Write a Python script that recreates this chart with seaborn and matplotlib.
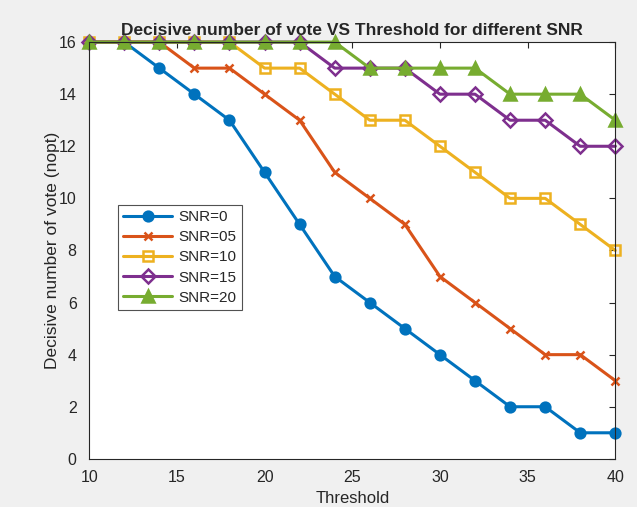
import matplotlib
matplotlib.use('Agg')
import matplotlib.pyplot as plt
import seaborn as sns
import pandas as pd

# Decisive number of vote vs threshold, one curve per SNR

threshold = [10, 12, 14, 16, 18, 20, 22, 24, 26, 28, 30, 32, 34, 36, 38, 40]
snr_0 = [16, 16, 15, 14, 13, 11, 9, 7, 6, 5, 4, 3, 2, 2, 1, 1]
snr_05 = [16, 16, 16, 15, 15, 14, 13, 11, 10, 9, 7, 6, 5, 4, 4, 3]
snr_10 = [16, 16, 16, 16, 16, 15, 15, 14, 13, 13, 12, 11, 10, 10, 9, 8]
snr_15 = [16, 16, 16, 16, 16, 16, 16, 15, 15, 15, 14, 14, 13, 13, 12, 12]
snr_20 = [16, 16, 16, 16, 16, 16, 16, 16, 15, 15, 15, 15, 14, 14, 14, 13]

series = {'SNR=0': snr_0, 'SNR=05': snr_05, 'SNR=10': snr_10,
          'SNR=15': snr_15, 'SNR=20': snr_20}

# matlab default colours + marker style per curve
styles = {
    'SNR=0': dict(color='#0072BD', marker='o', mfc='#0072BD', ms=7),
    'SNR=05': dict(color='#D95319', marker='x', mfc='#D95319', ms=6),
    'SNR=10': dict(color='#EDB120', marker='s', mfc='none', ms=7),
    'SNR=15': dict(color='#7E2F8E', marker='D', mfc='none', ms=7),
    'SNR=20': dict(color='#77AC30', marker='^', mfc='#77AC30', ms=9),
}

df = pd.DataFrame({'threshold': threshold, **series})
df_long = df.melt(id_vars='threshold', var_name='snr', value_name='nopt')

sns.set_style('white')
plt.rcParams['font.family'] = ['Liberation Sans', 'DejaVu Sans']

fig = plt.figure(figsize=(6.37, 5.07), dpi=100, facecolor='#f0f0f0')
ax = fig.add_axes([0.14, 0.095, 0.826, 0.822])

for name in series:
    st = styles[name]
    sns.lineplot(data=df_long[df_long['snr'] == name], x='threshold', y='nopt',
                 ax=ax, color=st['color'], marker=st['marker'],
                 markerfacecolor=st['mfc'], markeredgecolor=st['color'],
                 markersize=st['ms'], markeredgewidth=1.8, linewidth=2.2,
                 label=name, clip_on=False)

ax.set_xlim(10, 40)
ax.set_ylim(0, 16)
ax.set_xticks([10, 15, 20, 25, 30, 35, 40])
ax.set_yticks(range(0, 17, 2))
ax.tick_params(direction='in', length=4, labelsize=11.5, colors='#262626',
               top=True, right=True, labeltop=False, labelright=False)
ax.tick_params(axis='x', pad=8)
ax.tick_params(axis='y', pad=9)
for sp in ax.spines.values():
    sp.set_color('#262626')
    sp.set_linewidth(0.8)

ax.set_title('Decisive number of vote VS Threshold for different SNR',
             fontsize=12.5, fontweight='bold', pad=5)
ax.set_xlabel('Threshold', fontsize=12, labelpad=4)
ax.set_ylabel('Decisive number of vote (nopt)', fontsize=12.5, labelpad=-1)

leg = ax.legend(loc='lower left', bbox_to_anchor=(0.055, 0.357), borderaxespad=0,
                fontsize=11, frameon=True, fancybox=False, borderpad=0.35,
                labelspacing=0.4, handlelength=3.2, handletextpad=0.4,
                edgecolor='#262626')
leg.get_frame().set_linewidth(0.8)

fig.savefig('out.png', dpi=100, facecolor=fig.get_facecolor())
